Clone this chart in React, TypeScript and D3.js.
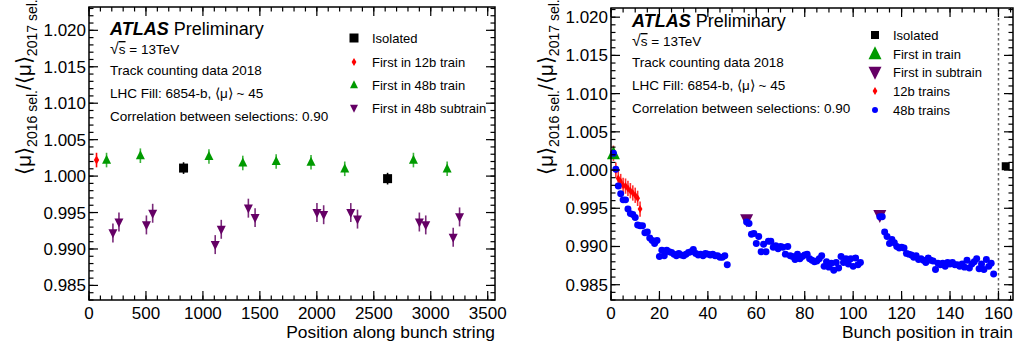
import React from 'react';
import * as d3 from 'd3';

// ---------- Left panel data ----------
const leftIsoX = [830, 2621];
const leftIsoY = [1.0011, 0.99965];
const leftIsoErr = [0.0008, 0.0008];
const left12bX = [66];
const left12bY = [1.0022];
const left12bErr = [0.001];
const left48bTrainX = [154, 451, 1053, 1350, 1643, 1949, 2245, 2848, 3144];
const left48bTrainY = [1.0022, 1.0028, 1.0027, 1.0018, 1.002, 1.0019, 1.001, 1.0022, 1.001];
const left48bTrainErr = [0.001, 0.001, 0.001, 0.001, 0.001, 0.001, 0.001, 0.001, 0.001];
const left48bSubX = [210, 263, 504, 559, 1108, 1161, 1399, 1458, 2001, 2060, 2298, 2357, 2900, 2956, 3197, 3253];
const left48bSubY = [0.9922, 0.9937, 0.9933, 0.9949, 0.9906, 0.9927, 0.9956, 0.9943, 0.995, 0.9947, 0.995, 0.9941, 0.9937, 0.9933, 0.9916, 0.9944];
const left48bSubErr = [0.0013, 0.0013, 0.0013, 0.0013, 0.0013, 0.0013, 0.0013, 0.0013, 0.0013, 0.0013, 0.0013, 0.0013, 0.0013, 0.0013, 0.0013, 0.0013];

const leftXMajor = [0, 500, 1000, 1500, 2000, 2500, 3000, 3500];
const leftYMajor = [0.985, 0.99, 0.995, 1.0, 1.005, 1.01, 1.015, 1.02];

// ---------- Right panel data ----------
const rightIsoX = [163];
const rightIsoY = [1.0005];
const rightFirstTrainX = [1];
const rightFirstTrainY = [1.0021];
const rightFirstSubX = [56, 111];
const rightFirstSubY = [0.99355, 0.9941];
const right12bX = [1, 2, 3, 4, 5, 6, 7, 8, 9, 10, 11, 12];
const right12bY = [1.0022, 1.0, 0.9989, 0.9985, 0.998, 0.9979, 0.9976, 0.9973, 0.997, 0.9967, 0.9963, 0.9949];
const right12bErr = [0.001, 0.001, 0.001, 0.001, 0.001, 0.001, 0.001, 0.001, 0.001, 0.001, 0.001, 0.001];

const train1Pos = d3.range(1, 49);
const train1Y = [
  1.0022, 1.0001, 0.9979, 0.9969, 0.9961, 0.9961, 0.9949, 0.9943, 0.9942, 0.9938,
  0.9928, 0.9927, 0.9927, 0.9918, 0.9919, 0.9911, 0.9908, 0.9904, 0.9908, 0.9887,
  0.9895, 0.9888, 0.9895, 0.9893, 0.9892, 0.989, 0.9888, 0.9891, 0.9889, 0.9888,
  0.989, 0.9892, 0.9893, 0.9896, 0.9891, 0.9889, 0.989, 0.9888, 0.9891, 0.989,
  0.9889, 0.989, 0.9888, 0.9888, 0.9886, 0.9886, 0.9888, 0.9876,
];
const train2Pos = d3.range(56, 104);
const train2Y = [
  0.9932, 0.993, 0.9916, 0.9917, 0.9904, 0.9913, 0.9893, 0.9903, 0.9893, 0.9907,
  0.9907, 0.9899, 0.9901, 0.9897, 0.99, 0.9899, 0.989, 0.99, 0.9888, 0.9887,
  0.9883, 0.989, 0.9884, 0.9887, 0.9889, 0.989, 0.9884, 0.9882, 0.988, 0.9881,
  0.9884, 0.9888, 0.9874, 0.988, 0.9873, 0.9878, 0.9869, 0.9879, 0.9872, 0.9887,
  0.9879, 0.9884, 0.9877, 0.9884, 0.9874, 0.9885, 0.9876, 0.9879,
];
const train3Pos = d3.range(111, 159);
const train3Y = [
  0.9939, 0.9939, 0.9919, 0.9913, 0.9904, 0.9909, 0.9905, 0.99, 0.9898, 0.9899,
  0.9898, 0.9891, 0.989, 0.9889, 0.9886, 0.9888, 0.9883, 0.9884, 0.9882, 0.9879,
  0.9885, 0.9882, 0.9881, 0.987, 0.9878, 0.9876, 0.9878, 0.9874, 0.9879, 0.9877,
  0.9879, 0.9876, 0.9876, 0.9874, 0.9877, 0.9873, 0.9882, 0.9872, 0.9877, 0.988,
  0.9884, 0.9871, 0.9877, 0.987, 0.9883, 0.9874, 0.9878, 0.9864,
];

const rightXMajor = [0, 20, 40, 60, 80, 100, 120, 140, 160];
const rightYMajor = [0.985, 0.99, 0.995, 1.0, 1.005, 1.01, 1.015, 1.02];

// ---------- Styles ----------
const FONT = 'Liberation Sans, Arial, Helvetica, sans-serif';
const GREEN = '#009a00';
const PURPLE = '#650065';
const RED = '#ff0000';
const BLUE = '#0000ff';
const BLACK = '#000000';

type Pt = { x: number; y: number; e?: number };

function zip(xs: number[], ys: number[], es?: number[]): Pt[] {
  return xs.map((x, i) => ({ x, y: ys[i], e: es ? es[i] : 0 }));
}

function markerPath(kind: string, s: number): string {
  switch (kind) {
    case 'square':
      return `M${-s / 2},${-s / 2}h${s}v${s}h${-s}Z`;
    case 'up':
      return `M0,${-s * 0.6}L${s / 2},${s * 0.4}L${-s / 2},${s * 0.4}Z`;
    case 'down':
      return `M0,${s * 0.6}L${s / 2},${-s * 0.4}L${-s / 2},${-s * 0.4}Z`;
    case 'diamond':
      return `M0,${-s / 2}L${s * 0.3},0L0,${s / 2}L${-s * 0.3},0Z`;
    default:
      return d3.symbol(d3.symbolCircle, s * s * 0.78)() as string;
  }
}

function Series({ pts, xs, ys, kind, size, color, errColor }: any) {
  return (
    <g>
      {pts.map((p: Pt, i: number) => (
        <g key={i}>
          {p.e ? (
            <line
              x1={xs(p.x)}
              x2={xs(p.x)}
              y1={ys(p.y - p.e)}
              y2={ys(p.y + p.e)}
              stroke={errColor || color}
              strokeWidth={1.6}
            />
          ) : null}
          <path d={markerPath(kind, size)} transform={`translate(${xs(p.x)},${ys(p.y)})`} fill={color} />
        </g>
      ))}
    </g>
  );
}

function Frame({ xs, ys, xMajor, xMinorStep, yMajor, yMinorStep, xFmt }: any) {
  const [x0, x1] = xs.range();
  const [y0, y1] = ys.range(); // y0 bottom, y1 top
  const [dx0, dx1] = xs.domain();
  const [dy0, dy1] = ys.domain();
  const xMinor = d3.range(Math.ceil(dx0 / xMinorStep) * xMinorStep, dx1 + 1e-9, xMinorStep);
  const yMinor = d3.range(Math.ceil(dy0 / yMinorStep - 1e-6) * yMinorStep, dy1 + 1e-9, yMinorStep);
  const majL = 9;
  const minL = 4.5;
  return (
    <g>
      {xMinor.map((v: number, i: number) => (
        <g key={'xm' + i}>
          <line x1={xs(v)} x2={xs(v)} y1={y0} y2={y0 - minL} stroke="#000" strokeWidth={1.2} />
          <line x1={xs(v)} x2={xs(v)} y1={y1} y2={y1 + minL} stroke="#000" strokeWidth={1.2} />
        </g>
      ))}
      {xMajor.map((v: number, i: number) => (
        <g key={'xM' + i}>
          <line x1={xs(v)} x2={xs(v)} y1={y0} y2={y0 - majL} stroke="#000" strokeWidth={1.2} />
          <line x1={xs(v)} x2={xs(v)} y1={y1} y2={y1 + majL} stroke="#000" strokeWidth={1.2} />
          <text x={xs(v)} y={y0 + 19} textAnchor="middle" fontSize={17} fontFamily={FONT}>
            {xFmt(v)}
          </text>
        </g>
      ))}
      {yMinor.map((v: number, i: number) => (
        <g key={'ym' + i}>
          <line x1={x0} x2={x0 + minL} y1={ys(v)} y2={ys(v)} stroke="#000" strokeWidth={1.2} />
          <line x1={x1} x2={x1 - minL} y1={ys(v)} y2={ys(v)} stroke="#000" strokeWidth={1.2} />
        </g>
      ))}
      {yMajor.map((v: number, i: number) => (
        <g key={'yM' + i}>
          <line x1={x0} x2={x0 + majL} y1={ys(v)} y2={ys(v)} stroke="#000" strokeWidth={1.2} />
          <line x1={x1} x2={x1 - majL} y1={ys(v)} y2={ys(v)} stroke="#000" strokeWidth={1.2} />
          <text x={x0 - 3} y={ys(v) + 6} textAnchor="end" fontSize={17} fontFamily={FONT}>
            {d3.format('.3f')(v)}
          </text>
        </g>
      ))}
      <rect x={x0} y={y1} width={x1 - x0} height={y0 - y1} fill="none" stroke="#000" strokeWidth={1.5} />
    </g>
  );
}

function YTitle({ x, y }: { x: number; y: number }) {
  return (
    <text transform={`translate(${x},${y}) rotate(-90)`} fontFamily={FONT} fontSize={21}>
      <tspan>⟨μ⟩</tspan>
      <tspan fontSize={14} dy={6}>2016 sel.</tspan>
      <tspan dy={-6}>/⟨μ⟩</tspan>
      <tspan fontSize={14} dy={6}>2017 sel.</tspan>
    </text>
  );
}

function Labels({ x, y }: { x: number; y: number }) {
  return (
    <g fontFamily={FONT}>
      <text x={x} y={y} fontSize={18}>
        <tspan fontWeight="bold" fontStyle="italic">ATLAS</tspan>
        <tspan> Preliminary</tspan>
      </text>
      <text x={x} y={y + 19} fontSize={13.5}>
        <tspan fontSize={16}>√</tspan>
        <tspan textDecoration="overline">s</tspan> = 13TeV
      </text>
      <text x={x} y={y + 40} fontSize={13.5}>Track counting data 2018</text>
      <text x={x} y={y + 63} fontSize={13.5}>LHC Fill: 6854-b, ⟨μ⟩ ~ 45</text>
      <text x={x} y={y + 86} fontSize={13.5}>Correlation between selections: 0.90</text>
    </g>
  );
}

function LegendItem({ x, y, kind, size, color, label }: any) {
  return (
    <g>
      <path d={markerPath(kind, size)} transform={`translate(${x},${y})`} fill={color} />
      <text x={x + 18} y={y + 4.5} fontSize={13} fontFamily={FONT}>
        {label}
      </text>
    </g>
  );
}

export default function App() {
  const lx = d3.scaleLinear().domain([0, 3564]).range([89, 495]);
  const ly = d3.scaleLinear().domain([0.983, 1.0232]).range([300, 7]);
  const rx = d3.scaleLinear().domain([0, 166]).range([611, 1013]);
  const ry = d3.scaleLinear().domain([0.983, 1.0212]).range([300, 8]);

  const blue = [...zip(train1Pos, train1Y), ...zip(train2Pos, train2Y), ...zip(train3Pos, train3Y)];

  return (
    <svg
      width={1017}
      height={345}
      style={{ position: 'absolute', left: 0, top: 0, background: '#fff' }}
      xmlns="http://www.w3.org/2000/svg"
    >
      <rect width={1017} height={345} fill="#fff" />
      {/* Left panel */}
      <Series pts={zip(leftIsoX, leftIsoY, leftIsoErr)} xs={lx} ys={ly} kind="square" size={9} color={BLACK} />
      <Series pts={zip(left12bX, left12bY, left12bErr)} xs={lx} ys={ly} kind="diamond" size={9} color={RED} />
      <Series pts={zip(left48bTrainX, left48bTrainY, left48bTrainErr)} xs={lx} ys={ly} kind="up" size={9} color={GREEN} errColor="#3cb43c" />
      <Series pts={zip(left48bSubX, left48bSubY, left48bSubErr)} xs={lx} ys={ly} kind="down" size={9} color={PURPLE} errColor="#7a2a7a" />
      <Frame xs={lx} ys={ly} xMajor={leftXMajor} xMinorStep={100} yMajor={leftYMajor} yMinorStep={0.001} xFmt={(v: number) => String(v)} />
      <text x={495} y={338} textAnchor="end" fontSize={17.4} fontFamily={FONT}>Position along bunch string</text>
      <YTitle x={31} y={175} />
      <Labels x={110} y={35} />
      <LegendItem x={354} y={38} kind="square" size={9} color={BLACK} label="Isolated" />
      <LegendItem x={354} y={62} kind="diamond" size={8} color={RED} label="First in 12b train" />
      <LegendItem x={354} y={85} kind="up" size={8} color={GREEN} label="First in 48b train" />
      <LegendItem x={354} y={108} kind="down" size={8} color={PURPLE} label="First in 48b subtrain" />

      {/* Right panel */}
      <line x1={rx(160)} x2={rx(160)} y1={ry.range()[1]} y2={ry.range()[0]} stroke="#666" strokeWidth={1.5} strokeDasharray="2.5,2.5" />
      <Series pts={zip(rightFirstSubX, rightFirstSubY)} xs={rx} ys={ry} kind="down" size={13} color={PURPLE} />
      <Series pts={zip(right12bX, right12bY, right12bErr)} xs={rx} ys={ry} kind="diamond" size={8} color={RED} errColor="#ff3030" />
      <Series pts={zip(rightFirstTrainX, rightFirstTrainY)} xs={rx} ys={ry} kind="up" size={13} color={GREEN} />
      <Series pts={blue} xs={rx} ys={ry} kind="circle" size={7} color={BLUE} />
      <Series pts={zip(rightIsoX, rightIsoY, [0.0004])} xs={rx} ys={ry} kind="square" size={8} color={BLACK} />
      <Frame xs={rx} ys={ry} xMajor={rightXMajor} xMinorStep={5} yMajor={rightYMajor} yMinorStep={0.001} xFmt={(v: number) => String(v)} />
      <text x={1013} y={338} textAnchor="end" fontSize={17.4} fontFamily={FONT}>Bunch position in train</text>
      <YTitle x={553} y={175} />
      <Labels x={632} y={27} />
      <LegendItem x={875} y={35} kind="square" size={8} color={BLACK} label="Isolated" />
      <LegendItem x={875} y={54} kind="up" size={13} color={GREEN} label="First in train" />
      <LegendItem x={875} y={72} kind="down" size={13} color={PURPLE} label="First in subtrain" />
      <LegendItem x={875} y={91} kind="diamond" size={8} color={RED} label="12b trains" />
      <LegendItem x={875} y={110} kind="circle" size={6} color={BLUE} label="48b trains" />
    </svg>
  );
}
